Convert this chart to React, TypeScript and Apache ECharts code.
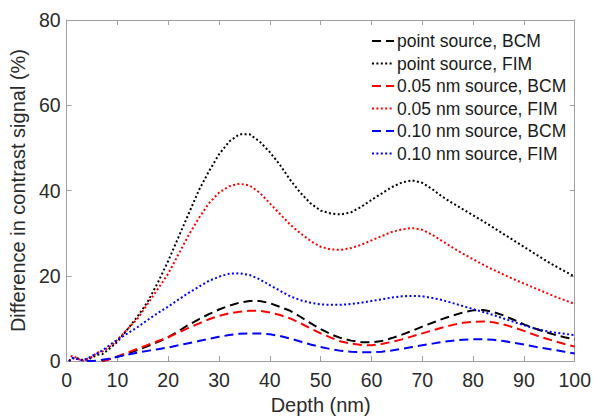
import React, { useEffect, useRef } from "react";
import * as echarts from "echarts";

const depths = [0.5, 1, 2, 3, 4, 5, 6, 7, 8, 9, 10,
  12, 14, 16, 18, 20, 22, 24, 26, 28, 30, 32, 34, 36, 38, 40, 42, 44, 46, 48, 50,
  52, 54, 56, 58, 60, 62, 64, 66, 68, 70, 72, 74, 76, 78, 80, 82, 84, 86, 88, 90,
  92, 94, 96, 98, 100];

const pointBCM = [null, null, null, null, null, null, null, 0, 0.3, 0.6, 1,
  1.8, 2.6, 3.5, 4.5, 5.6, 7, 8.5, 9.8, 11, 12.1, 13, 13.7, 14.1, 14.1, 13.6, 12.7, 11.8, 10.4, 8.9, 7.5,
  6.3, 5.4, 4.8, 4.45, 4.4, 4.7, 5.4, 6.2, 7.1, 8.1, 9, 9.9, 10.7, 11.4, 11.9, 12, 11.5, 10.7, 9.7, 8.6,
  7.7, 6.9, 6.2, 5.6, 5.1];

const pointFIM = [0, 0.6, 0.7, 0.3, 0.3, 0.8, 1.5, 1.6, 2.5, 3.5, 4.5,
  7.5, 10.5, 14, 18.5, 23.5, 29, 34.5, 40, 44.5, 48.5, 51.5, 53.2, 53.2, 51.5, 49, 46, 42.5, 39.5, 37, 35.3,
  34.6, 34.4, 34.9, 36.2, 37.8, 39.3, 40.8, 41.9, 42.4, 41.8, 40.3, 38.5, 37, 35.6, 34.2, 32.8, 31.3, 29.8, 28.3, 26.8,
  25.3, 23.8, 22.4, 21.1, 19.8];

const nm005BCM = [null, null, null, null, null, null, null, 0, 0.3, 0.7, 1.1,
  2, 2.9, 3.8, 4.7, 5.6, 6.7, 7.8, 8.8, 9.8, 10.6, 11.2, 11.6, 11.8, 11.8, 11.4, 10.8, 10, 8.9, 7.7, 6.5,
  5.5, 4.6, 4.1, 3.8, 3.7, 4, 4.5, 5.1, 5.8, 6.5, 7.2, 7.9, 8.5, 9, 9.2, 9.3, 9.1, 8.6, 7.9, 7.1,
  6.2, 5.4, 4.7, 4, 3.4];

const nm005FIM = [0, 1.2, 0.8, 0, 0.5, 1, 2, 2.2, 3, 3.8, 5,
  7.5, 10, 13.5, 17, 20.5, 25, 29.5, 33.5, 37, 39.5, 41, 41.6, 41.2, 39.5, 37, 34.5, 32, 30, 28.2, 26.8,
  26.2, 26.1, 26.5, 27.3, 28.3, 29.3, 30.3, 30.9, 31.2, 30.8, 29.6, 28.1, 26.6, 25.2, 23.9, 22.6, 21.4, 20.3, 19.2, 18.2,
  17.2, 16.2, 15.2, 14.3, 13.4];

const nm010BCM = [null, null, null, null, 0, 0.05, 0.1, 0.3, 0.5, 0.7, 1,
  1.5, 2, 2.4, 2.8, 3.2, 3.7, 4.2, 4.7, 5.2, 5.7, 6.1, 6.4, 6.5, 6.5, 6.3, 5.9, 5.3, 4.6, 3.9, 3.3,
  2.8, 2.4, 2.2, 2.1, 2.1, 2.2, 2.5, 2.9, 3.3, 3.7, 4.1, 4.5, 4.8, 5, 5.1, 5.1, 5, 4.7, 4.3, 3.9,
  3.4, 3, 2.6, 2.2, 1.8];

const nm010FIM = [0, 0.8, 0.5, 0.2, 0.5, 1.2, 1.8, 2.5, 3.3, 4.2, 5,
  6.5, 8, 9.7, 11.3, 12.8, 14.4, 16, 17.4, 18.8, 19.8, 20.5, 20.6, 20.2, 19.2, 17.8, 16.5, 15.2, 14.3, 13.7, 13.3,
  13.2, 13.2, 13.4, 13.7, 14.1, 14.5, 14.9, 15.2, 15.3, 15.2, 14.8, 14.3, 13.6, 12.9, 12.2, 11.5, 10.8, 10, 9.2, 8.4,
  7.7, 7.1, 6.7, 6.4, 6.1];

const seriesNames = [
  "point source, BCM",
  "point source, FIM",
  "0.05 nm source, BCM",
  "0.05 nm source, FIM",
  "0.10 nm source, BCM",
  "0.10 nm source, FIM",
];
const seriesValues = [pointBCM, pointFIM, nm005BCM, nm005FIM, nm010BCM, nm010FIM];
const seriesColors = ["#000000", "#000000", "#ff0000", "#ff0000", "#0000ff", "#0000ff"];

const xTicks = { min: 0, max: 100, interval: 10 };
const yTicks = { min: 0, max: 80, interval: 20 };

const FONT = "Liberation Sans, Arial, Helvetica, sans-serif";
const AXIS_COLOR = "#a0a0a0";
const LABEL_COLOR = "#2b2b2b";

export default function App() {
  const ref = useRef<HTMLDivElement>(null);
  useEffect(() => {
    if (!ref.current) return;
    document.body.style.margin = "0";
    document.body.style.overflow = "hidden";
    document.documentElement.style.overflow = "hidden";
    const chart = echarts.init(ref.current, undefined, { renderer: "svg" });
    const axisCommon = {
      axisLine: { show: true, onZero: false, lineStyle: { color: AXIS_COLOR, width: 1 } },
      axisTick: { show: true, inside: true, length: 5, lineStyle: { color: AXIS_COLOR } },
      splitLine: { show: false },
    };
    const series = seriesNames.map((name, i) => {
      const isBCM = i % 2 === 0;
      return {
        name,
        type: "line",
        xAxisIndex: 0,
        yAxisIndex: 0,
        symbol: "none",
        showSymbol: false,
        connectNulls: false,
        data: depths.map((d, j) => [d, seriesValues[i][j]]).filter((p) => p[1] !== null),
        lineStyle: {
          color: seriesColors[i],
          width: 2,
          type: isBCM ? [9, 5] : [2, 2.4],
          cap: "butt",
        },
        itemStyle: { color: seriesColors[i] },
        z: 3,
      };
    });
    chart.setOption({
      animation: false,
      backgroundColor: "#ffffff",
      grid: { left: 63, right: 16, top: 20, bottom: 54, containLabel: false },
      legend: {
        orient: "vertical",
        left: 366,
        top: 27,
        itemWidth: 22,
        itemHeight: 14,
        itemGap: 4.5,
        itemStyle: { opacity: 0 },
        textStyle: { fontFamily: FONT, fontSize: 17.5, color: "#1a1a1a", padding: [0, 0, 0, -2] },
        data: seriesNames,
      },
      xAxis: [
        {
          type: "value",
          position: "bottom",
          ...xTicks,
          ...axisCommon,
          axisLabel: { fontFamily: FONT, fontSize: 19.5, color: LABEL_COLOR, margin: 9 },
          name: "Depth (nm)",
          nameLocation: "middle",
          nameGap: 33,
          nameTextStyle: { fontFamily: FONT, fontSize: 20, color: LABEL_COLOR },
        },
        {
          type: "value",
          position: "top",
          ...xTicks,
          ...axisCommon,
          axisLabel: { show: false },
        },
      ],
      yAxis: [
        {
          type: "value",
          position: "left",
          ...yTicks,
          ...axisCommon,
          axisLabel: { fontFamily: FONT, fontSize: 19.5, color: LABEL_COLOR, margin: 6 },
          name: "Difference in contrast signal (%)",
          nameLocation: "middle",
          nameGap: 30,
          nameTextStyle: { fontFamily: FONT, fontSize: 20, color: LABEL_COLOR },
        },
        {
          type: "value",
          position: "right",
          ...yTicks,
          ...axisCommon,
          axisLabel: { show: false },
        },
      ],
      series,
    });
    return () => chart.dispose();
  }, []);
  return (
    <div style={{ width: 594, height: 420, position: "fixed", left: 0, top: 0, overflow: "hidden" }}>
      <div ref={ref} style={{ width: 594, height: 420, overflow: "hidden" }} />
    </div>
  );
}
